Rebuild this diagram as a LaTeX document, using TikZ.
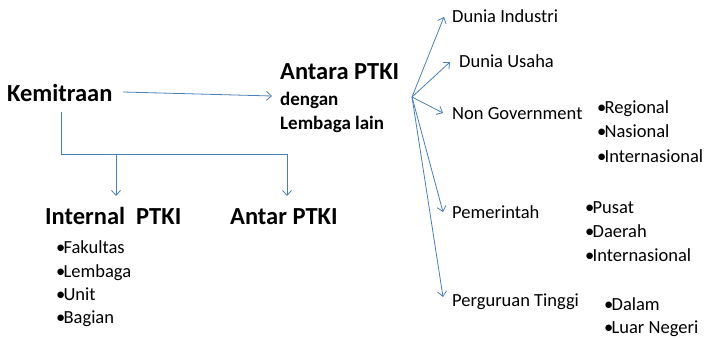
\documentclass[tikz,border=0pt]{standalone}
\usepackage{fontspec}
\setmainfont{Carlito}
\usetikzlibrary{arrows.meta}
\definecolor{link}{HTML}{4A7EBB}
% bullet set tight against the item text
\newcommand\itembullet{•\kern-1.8pt}
\begin{document}
\begin{tikzpicture}[x=1pt,y=-1pt,
  head/.style={font=\fontsize{24.5}{29}\selectfont\bfseries, inner sep=0pt, anchor=base west},
  sub/.style={font=\fontsize{19}{23}\selectfont\bfseries, inner sep=0pt, anchor=base west},
  lbl/.style={font=\fontsize{18.5}{22}\selectfont, inner sep=0pt, anchor=base west},
  conn/.style={draw=link, line width=0.8pt},
  arr/.style={conn, -{Straight Barb[length=5pt,width=9pt]}}]
\useasboundingbox (0,0) rectangle (708,339);

% main headings
\node[head] (kem) at (7,102) {Kemitraan};
\node[head] (antara) at (280,80) {Antara PTKI};
\node[sub] (dengan) at (280,106) {dengan};
\node[sub] (lain) at (280,130) {Lembaga lain};
\node[head] (internal) at (45,224) {Internal\ \ PTKI};
\node[head] (antar) at (230,224) {Antar PTKI};

% internal units
\node[lbl] (fak) at (56,253) {\itembullet Fakultas};
\node[lbl] (lem) at (56,277) {\itembullet Lembaga};
\node[lbl] (unit) at (56,300) {\itembullet Unit};
\node[lbl] (bag) at (56,323) {\itembullet Bagian};

% external partners
\node[lbl] (ind) at (452,23) {Dunia Industri};
\node[lbl] (usaha) at (459,68) {Dunia Usaha};
\node[lbl] (ngo) at (452,120) {Non Government};
\node[lbl] (pem) at (452,218) {Pemerintah};
\node[lbl] (pt) at (452,306) {Perguruan Tinggi};

\node[lbl] (reg) at (597,114) {\itembullet Regional};
\node[lbl] (nas) at (597,138) {\itembullet Nasional};
\node[lbl] (intl) at (597,162) {\itembullet Internasional};

\node[lbl] (pusat) at (585,213) {\itembullet Pusat};
\node[lbl] (daerah) at (585,237) {\itembullet Daerah};
\node[lbl] (intl2) at (585,261) {\itembullet Internasional};

\node[lbl] (dalam) at (604,310) {\itembullet Dalam};
\node[lbl] (luar) at (604,333) {\itembullet Luar Negeri};

% connector end points
\coordinate (kemR) at (123,92);
\coordinate (antaraL) at (272,96);
\coordinate (kemB) at (61,112);
\coordinate (split) at (61,154);
\coordinate (intTop) at (116,196);
\coordinate (antTop) at (287,196);
\coordinate (hub) at (412,97);
\coordinate (indT) at (444,17);
\coordinate (usahaT) at (450,62);
\coordinate (ngoT) at (443,113);
\coordinate (pemT) at (443,212);
\coordinate (ptT) at (443,297);

% connectors
\draw[arr] (kemR) -- (antaraL);
\draw[conn] (kemB) -- (split) -- (antTop |- split);
\draw[arr] (intTop |- split) -- (intTop);
\draw[arr] (antTop |- split) -- (antTop);
\draw[arr] (hub) -- (indT);
\draw[arr] (hub) -- (usahaT);
\draw[arr] (hub) -- (ngoT);
\draw[arr] (hub) -- (pemT);
\draw[arr] (hub) -- (ptT);
\end{tikzpicture}
\end{document}
